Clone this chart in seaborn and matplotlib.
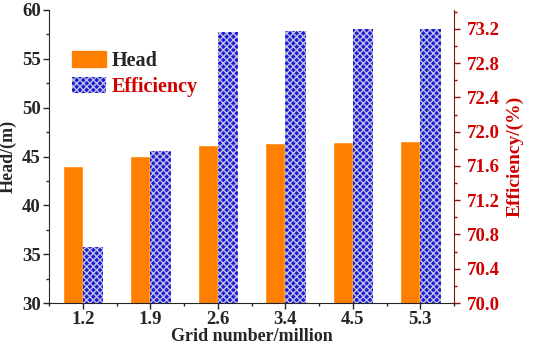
import pandas as pd
import matplotlib
matplotlib.use("Agg")
import matplotlib.pyplot as plt
import matplotlib.patches as mpatches
from matplotlib.ticker import MultipleLocator, FixedLocator
import seaborn as sns

# Data
grid = ["1.2", "1.9", "2.6", "3.4", "4.5", "5.3"]
head = [44.0, 45.1, 46.2, 46.4, 46.5, 46.6]
efficiency = [70.65, 71.77, 73.16, 73.18, 73.2, 73.2]

sns.set_style("ticks")
plt.rcParams["font.family"] = ["Liberation Serif", "DejaVu Serif"]
plt.rcParams["font.weight"] = "bold"

orange = "#ff8000"
blue = "#1a1ad8"
dots = "#c0c0e0"
red = "#d00000"
dark_red = "#8b1010"

# each axis gets both series so the bars dodge; the other series sits at 0
# (below the visible range of that axis)
zeros = [0] * len(grid)
df_left = pd.DataFrame({"grid": grid * 2, "value": head + zeros,
                        "series": ["Head"] * 6 + ["Efficiency"] * 6})
df_right = pd.DataFrame({"grid": grid * 2, "value": zeros + efficiency,
                         "series": ["Head"] * 6 + ["Efficiency"] * 6})
order = ["Head", "Efficiency"]
pal = {"Head": orange, "Efficiency": blue}

fig = plt.figure(figsize=(5.33, 3.48), dpi=100)
ax1 = fig.add_axes([49 / 533, 1 - 303 / 348, 405 / 533, 293 / 348])
ax2 = ax1.twinx()

sns.barplot(data=df_left, x="grid", y="value", hue="series", hue_order=order,
            palette=pal, width=0.6, saturation=1, legend=False, ax=ax1)
sns.barplot(data=df_right, x="grid", y="value", hue="series", hue_order=order,
            palette=pal, width=0.6, saturation=1, legend=False, ax=ax2)

for p in ax2.patches:
    if p.get_height() > 0:
        p.set_hatch("xxxxx")
        p.set_edgecolor(dots)
        p.set_linewidth(0)

ax1.set_ylim(30, 60)
ax2.set_ylim(70, 73.42)
ax1.set_xlim(-0.5, 5.5)

ax1.yaxis.set_major_locator(MultipleLocator(5))
ax1.yaxis.set_minor_locator(MultipleLocator(2.5))
ax2.set_yticks([70 + 0.4 * i for i in range(9)])
ax2.set_yticklabels([f"{70 + 0.4 * i:.1f}" for i in range(9)])
ax2.yaxis.set_minor_locator(MultipleLocator(0.2))
ax1.xaxis.set_minor_locator(FixedLocator([i + 0.5 for i in range(-1, 6)]))

for ax in (ax1, ax2):
    ax.spines["top"].set_visible(False)
ax1.spines["right"].set_visible(False)
ax2.spines["left"].set_visible(False)
ax2.spines["bottom"].set_visible(False)
ax2.spines["right"].set_color(dark_red)

ax1.tick_params(axis="both", which="major", direction="out", length=4,
                width=1, labelsize=13.5, pad=2)
ax1.tick_params(axis="both", which="minor", direction="out", length=2, width=1)
ax2.tick_params(axis="y", which="major", direction="out", length=4, width=1,
                colors=dark_red, labelcolor=red, labelsize=13.5, pad=5)
ax2.tick_params(axis="y", which="minor", direction="out", length=2, width=1,
                colors=dark_red)

ax1.set_xlabel("Grid number/million", fontsize=13, fontweight="bold", labelpad=0)
ax1.set_ylabel("Head/(m)", fontsize=13, fontweight="bold", labelpad=4)
ax2.set_ylabel("Efficiency/(%)", fontsize=14, fontweight="bold", color=red,
               labelpad=5)

handles = [
    mpatches.Patch(facecolor=orange, edgecolor=orange, label="Head"),
    mpatches.Patch(facecolor=blue, edgecolor=dots, hatch="xxxxx",
                   linewidth=0, label="Efficiency"),
]
leg = ax1.legend(handles=handles, loc="upper left", bbox_to_anchor=(0.056, 0.86),
                 frameon=False, fontsize=14.5, handlelength=1.7, handleheight=0.85,
                 handletextpad=0.3, labelspacing=0.3, borderaxespad=0,
                 borderpad=0)
leg.get_texts()[1].set_color(red)
leg.set_zorder(5)

fig.savefig("out.png", dpi=100)
